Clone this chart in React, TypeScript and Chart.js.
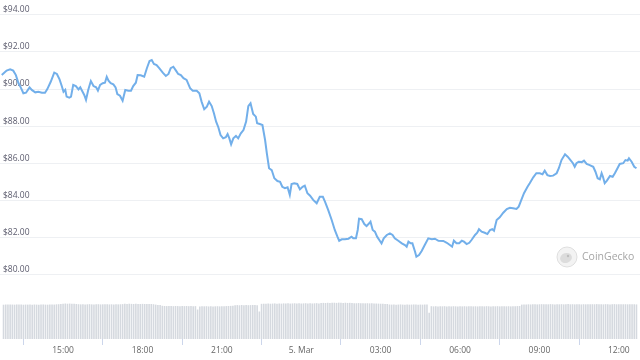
import React, { useEffect, useRef } from "react";
import { Chart, registerables } from "chart.js";

Chart.register(...registerables);

// Price line: time in minutes since 4 Mar 00:00, price in USD
const PRICE_TIMES = [
  761, 772, 780, 787, 793, 799, 804, 810, 816, 824, 829, 837, 844, 852, 859, 864, 872, 880, 886, 892, 897, 901, 905, 908,
  914, 918, 923, 929, 935, 939, 943, 948, 952, 957, 963, 969, 975, 979, 984, 990, 995, 999, 1003, 1008, 1014, 1019, 1023,
  1029, 1035, 1041, 1048, 1054, 1059, 1065, 1069, 1076, 1084, 1090, 1096, 1101, 1106, 1112, 1118,
  1126, 1133, 1139, 1144, 1150, 1156, 1161, 1167, 1173, 1180, 1188, 1194, 1203, 1209, 1214, 1220, 1226, 1231, 1237, 1242,
  1247, 1252, 1257, 1263, 1269, 1273, 1277, 1281, 1286, 1292, 1297, 1303, 1309, 1315, 1320, 1325, 1331, 1337, 1340, 1346,
  1352, 1358, 1362, 1367, 1373, 1379, 1386, 1392, 1397, 1403, 1409, 1414, 1418, 1424, 1431, 1437, 1443, 1448, 1454, 1460,
  1467, 1475, 1482, 1489,
  1494, 1501, 1509, 1516, 1522, 1526, 1532, 1539, 1547, 1554, 1558, 1564, 1568, 1571, 1577, 1583, 1588, 1594, 1597, 1602,
  1607, 1612, 1618, 1622, 1627, 1634, 1641, 1647, 1652, 1660, 1668, 1675, 1679, 1683, 1688, 1692, 1698, 1701, 1707, 1713,
  1720, 1728, 1736, 1743, 1751, 1762, 1770, 1777, 1782, 1786, 1792, 1798, 1804, 1809, 1815, 1821, 1826, 1834, 1839, 1843,
  1849, 1856,
  1862, 1868, 1873, 1877, 1883, 1890, 1898, 1906, 1913, 1920, 1928, 1933, 1939, 1945, 1953, 1958, 1966, 1973, 1981, 1987,
  1992, 1998, 2004, 2011, 2019, 2024, 2030, 2038, 2044, 2049, 2056, 2060, 2064, 2069, 2076, 2081, 2087, 2094, 2102, 2107,
  2112, 2117, 2121, 2124, 2128, 2133, 2140, 2146, 2151, 2157, 2162, 2170, 2175, 2180, 2183, 2189, 2195, 2200,
];

const PRICES = [
  90.75, 90.99, 91.06, 90.99, 90.75, 90.31, 90.09, 89.77, 89.8, 90.09, 89.95, 89.82, 89.85, 89.8, 89.8, 89.98, 90.39, 90.88,
  90.81, 90.52, 90.16, 89.85, 89.95, 89.59, 89.53, 89.59, 90.22, 90.16, 89.98, 90.09, 89.91, 89.68, 89.41, 89.95, 90.43,
  90.16, 90.09, 89.91, 90.22, 90.31, 90.34, 90.66, 90.45, 90.31, 90.25, 90.09, 89.73, 89.64, 89.37, 89.95, 89.91, 89.91,
  90.16, 90.34, 90.75, 90.74, 90.66, 91.12, 91.51, 91.56, 91.35, 91.29, 91.12,
  90.88, 90.7, 90.81, 91.12, 91.2, 90.99, 90.81, 90.75, 90.58, 90.49, 90.04, 89.91, 89.91, 89.77, 89.32, 88.91, 89.05,
  89.32, 89.08, 88.69, 88.24, 87.94, 87.52, 87.34, 87.4, 87.57, 87.34, 87.02, 87.34, 87.47, 87.34, 87.61, 87.79, 88.24,
  89.08, 89.23, 88.65, 88.51, 88.15, 88.11, 88.06, 87.25, 86.53, 85.73, 85.63, 85.19, 85.04, 85.0, 84.73, 84.65, 84.7,
  84.29, 84.88, 84.92, 84.88, 84.59, 84.73, 84.79, 84.38, 84.25, 84.02, 83.84, 84.19, 84.19,
  83.92, 83.48, 82.94, 82.4, 82.04, 81.82, 81.9, 81.9, 81.93, 82.04, 81.95, 81.95, 82.4, 83.01, 82.98, 82.72, 82.61, 82.76,
  82.85, 82.4, 82.31, 82.04, 81.82, 81.68, 81.95, 82.13, 82.22, 82.13, 81.95, 81.82, 81.68, 81.59, 81.5, 81.77, 81.68,
  81.68, 81.23, 80.96, 81.05, 81.27, 81.59, 81.95, 81.9, 81.93, 81.82, 81.81, 81.71, 81.59, 81.5, 81.82, 81.68, 81.68,
  81.82, 81.77, 81.64, 81.71, 81.86, 82.13, 82.25, 82.44, 82.31, 82.25,
  82.18, 82.4, 82.44, 82.36, 82.94, 83.08, 83.33, 83.53, 83.6, 83.57, 83.53, 83.66, 84.02, 84.38, 84.73, 84.92, 85.24,
  85.46, 85.46, 85.4, 85.6, 85.36, 85.31, 85.33, 85.46, 85.73, 86.17, 86.48, 86.35, 86.21, 86.0, 85.81, 86.0, 86.08, 86.06,
  86.14, 85.96, 85.9, 85.81, 85.54, 85.19, 85.13, 85.46, 85.27, 84.92, 85.06, 85.31, 85.27, 85.46, 85.73, 85.96, 86.0,
  86.17, 86.14, 86.26, 86.08, 85.81, 85.73,
];

// Volume bars: one per 5 minutes from 12:45 on 4 Mar
const VOLUME_START = 765;
const VOLUME_STEP = 5;
const VOLUMES = [
  698, 702, 700, 704, 701, 699, 703, 700, 702, 698, 701, 700, 703, 699, 702, 700, 698, 701, 703, 700, 699, 702, 700, 701,
  706, 708, 712, 720, 722, 718, 721, 719, 716, 712, 708, 705, 707, 704, 706, 709, 705, 703, 706, 708, 704, 706, 707, 705,
  704, 706, 703, 708, 705, 707, 710, 716, 714, 718, 715, 713, 717, 714, 712, 715, 713, 711, 714, 712, 708, 700, 694, 690,
  676, 672, 670, 674, 671, 668, 672, 670, 667, 671, 669, 672, 668, 670, 667, 669, 600, 664, 668, 665, 667, 663, 666, 664,
  665, 667, 664, 668, 666, 670, 672, 674, 676, 688, 690, 686, 692, 689, 691, 688, 690, 693, 690, 688, 560, 716, 718, 720,
  722, 718, 721, 724, 719, 723, 720, 725, 722, 726, 721, 724, 727, 723, 726, 722, 725, 728, 724, 727, 723, 726, 729, 725,
  732, 735, 733, 737, 734, 736, 738, 735, 740, 737, 735, 738, 734, 736, 733, 730, 728, 731, 727, 729, 726, 728, 725, 727,
  724, 722, 720, 718, 716, 714, 712, 702, 700, 703, 699, 701, 704, 700, 698, 702, 699, 701, 703, 700, 698, 701, 699, 702,
  700, 534, 668, 664, 667, 663, 666, 665, 668, 664, 666, 663, 667, 665, 662, 666, 664, 667, 663, 665, 668, 664, 666, 663,
  665, 667, 664, 668, 666, 663, 667, 665, 668, 664, 666, 669, 665, 667, 664, 668, 666, 670, 672, 700, 704, 702, 706, 703,
  705, 708, 704, 707, 709, 705, 708, 706, 710, 707, 704, 708, 706, 709, 705, 707, 710, 706, 708, 705, 709, 707, 704, 708,
  706, 709, 705, 708, 707, 710, 706, 708, 705, 709, 707, 704, 708, 710, 706, 709, 705, 707, 708, 706, 709, 705, 707, 704,
];

const X_MIN = 757;
const X_MAX = 2208;
const TICK_TIMES = [900, 1080, 1260, 1440, 1620, 1800, 1980, 2160];
const TICK_LABELS = ["15:00", "18:00", "21:00", "5. Mar", "03:00", "06:00", "09:00", "12:00"];
const PRICE_TICKS = [80, 82, 84, 86, 88, 90, 92, 94];
const PRICE_MIN = 76.523;
const PRICE_MAX = 94.798;
const VOLUME_MAX = 6900;

const FONT = "'Open Sans', 'Liberation Sans', sans-serif";

const watermark = {
  id: "watermark",
  beforeDatasetsDraw(chart: any) {
    const ctx = chart.ctx as CanvasRenderingContext2D;
    ctx.save();
    const cx = 567;
    const cy = 257;
    ctx.beginPath();
    ctx.arc(cx, cy, 10, 0, Math.PI * 2);
    ctx.fillStyle = "#f3f3f3";
    ctx.fill();
    ctx.lineWidth = 1;
    ctx.strokeStyle = "#dedede";
    ctx.stroke();
    ctx.beginPath();
    ctx.ellipse(cx - 1, cy + 1, 6, 5, -0.3, 0, Math.PI * 2);
    ctx.fillStyle = "#dcdcdc";
    ctx.fill();
    ctx.beginPath();
    ctx.arc(cx + 1, cy - 1, 1.2, 0, Math.PI * 2);
    ctx.fillStyle = "#bdbdbd";
    ctx.fill();
    ctx.font = `10.5px ${FONT}`;
    ctx.fillStyle = "#a6a6a6";
    ctx.textBaseline = "middle";
    ctx.textAlign = "left";
    ctx.fillText("CoinGecko", 582, cy);
    ctx.restore();
  },
};

export default function App() {
  const ref = useRef<HTMLCanvasElement>(null);

  useEffect(() => {
    document.body.style.margin = "0";
    const canvas = ref.current;
    if (!canvas) return;
    const n = Math.min(PRICE_TIMES.length, PRICES.length);
    const lineData = [];
    for (let i = 0; i < n; i++) lineData.push({ x: PRICE_TIMES[i], y: PRICES[i] });
    const barData = VOLUMES.map((v, i) => ({ x: VOLUME_START + i * VOLUME_STEP, y: v }));

    const chart = new Chart(canvas, {
      type: "bar",
      data: {
        datasets: [
          {
            type: "line",
            data: lineData,
            borderColor: "#72afea",
            borderWidth: 2,
            pointRadius: 0,
            tension: 0,
            yAxisID: "y",
            order: 0,
          } as any,
          {
            type: "bar",
            data: barData,
            backgroundColor: "#d5d9df",
            yAxisID: "yv",
            barPercentage: 0.8,
            categoryPercentage: 0.9,
            order: 1,
          } as any,
        ],
      },
      options: {
        responsive: false,
        animation: false,
        devicePixelRatio: 1,
        events: [],
        layout: { padding: { left: 0, right: 0, top: 0, bottom: 4.8 } },
        plugins: { legend: { display: false }, tooltip: { enabled: false } },
        scales: {
          x: {
            type: "linear",
            min: X_MIN,
            max: X_MAX,
            offset: false,
            afterBuildTicks: (axis: any) => {
              axis.ticks = TICK_TIMES.map((v) => ({ value: v }));
            },
            ticks: {
              autoSkip: false,
              maxRotation: 0,
              padding: 0,
              color: "#666666",
              font: { family: FONT, size: 8.5 },
              callback: (v: any) => {
                const idx = TICK_TIMES.indexOf(Number(v));
                return idx >= 0 ? TICK_LABELS[idx] : "";
              },
            },
            grid: { drawOnChartArea: false, drawTicks: true, tickLength: 6, color: "#ccd6eb" },
            border: { display: false },
          },
          y: {
            type: "linear",
            position: "left",
            min: PRICE_MIN,
            max: PRICE_MAX,
            afterBuildTicks: (axis: any) => {
              axis.ticks = PRICE_TICKS.map((v) => ({ value: v }));
            },
            afterFit: (axis: any) => {
              axis.width = 0;
              axis.paddingTop = 0;
              axis.paddingBottom = 0;
            },
            ticks: {
              mirror: true,
              padding: 3,
              labelOffset: -5,
              color: "#5c5c6e",
              font: { family: FONT, size: 8.5 },
              callback: (v: any) => "$" + Number(v).toFixed(2),
            },
            grid: { color: "#eef0f3", drawTicks: false },
            border: { display: false },
          },
          yv: {
            type: "linear",
            display: false,
            min: 0,
            max: VOLUME_MAX,
          },
        },
      } as any,
      plugins: [watermark],
    });
    return () => chart.destroy();
  }, []);

  return (
    <div style={{ width: 640, height: 360, background: "#ffffff" }}>
      <canvas ref={ref} width={640} height={360} style={{ display: "block" }} />
    </div>
  );
}
